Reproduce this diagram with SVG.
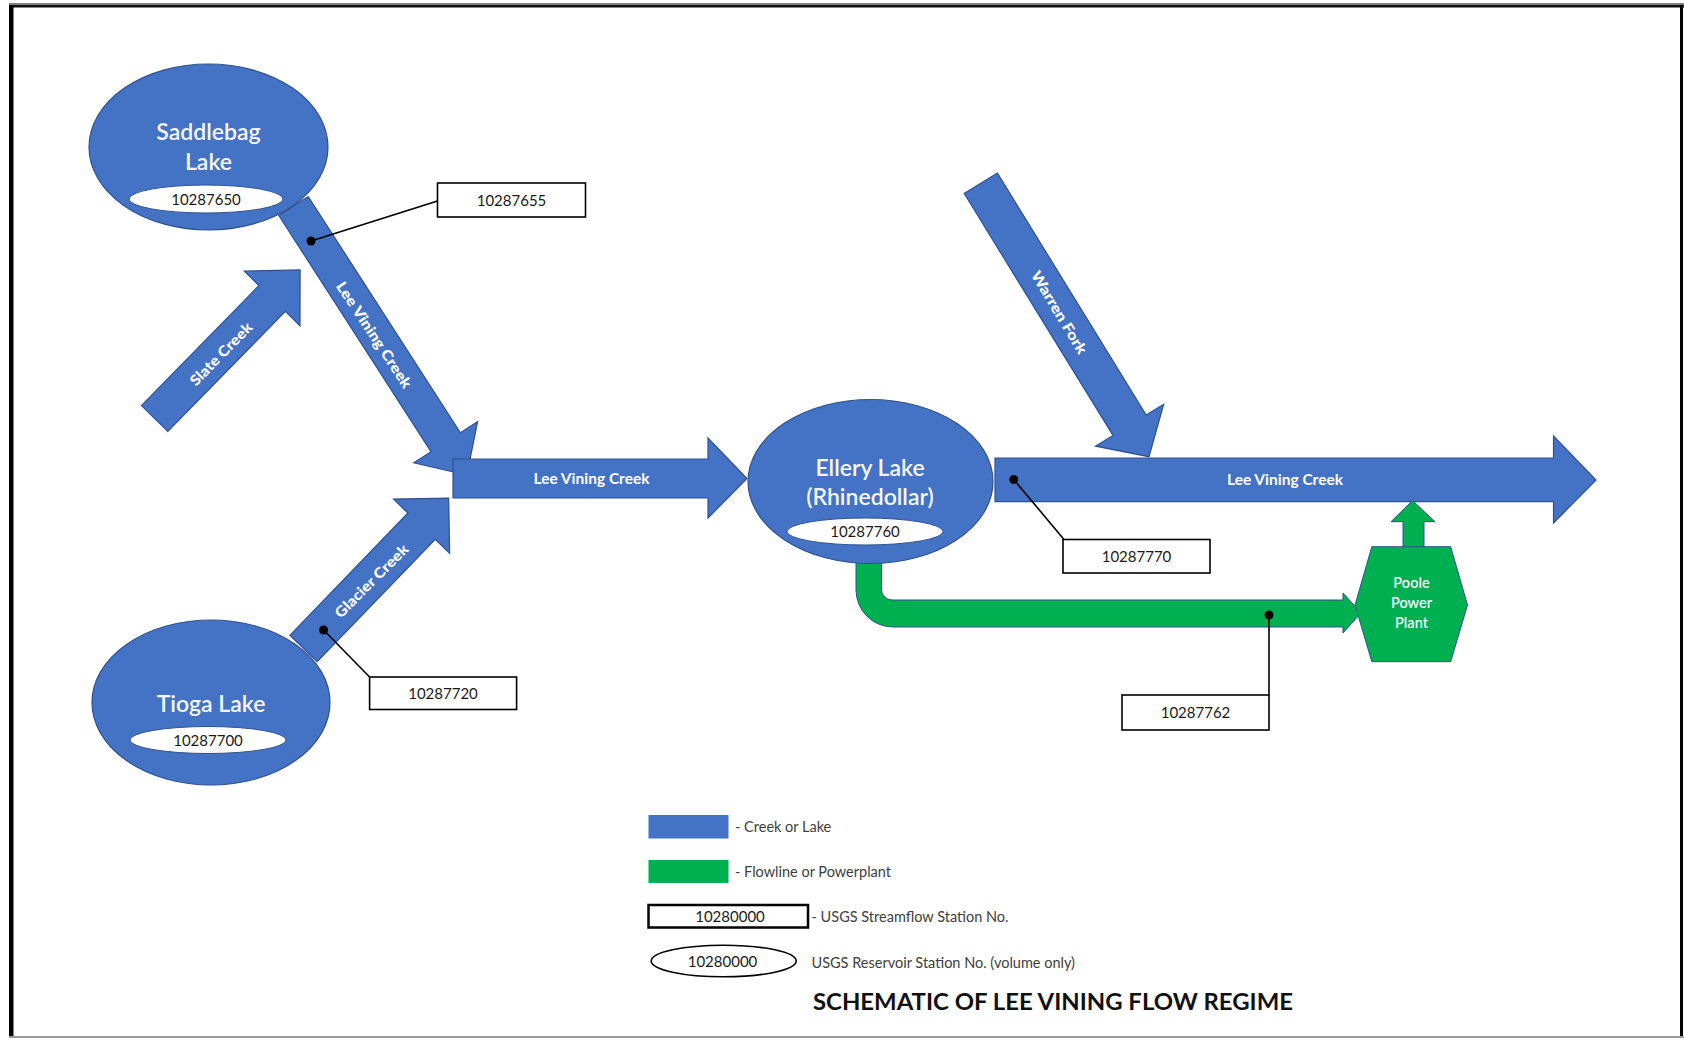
<svg xmlns="http://www.w3.org/2000/svg" width="1684" height="1040" viewBox="0 0 1684 1040">
  <style>
    .creek { fill: #4472C4; stroke: #2F528F; stroke-width: 1.2; }
    .flow { fill: #00B050; stroke: #2F528F; stroke-width: 1; }
    .station { fill: #FFFFFF; stroke: #2F528F; stroke-width: 1; }
    .box { fill: #FFFFFF; stroke: #000000; stroke-width: 1.6; }
    .leader { stroke: #000000; stroke-width: 1.6; fill: none; }
    .dot { fill: #000000; }
    .lake { font-family: Lato, "Open Sans", "Liberation Sans", sans-serif; font-size: 23px; font-weight: 600; fill: #F4F6FB; text-anchor: middle; }
    .num { font-family: Lato, "Open Sans", "Liberation Sans", sans-serif; font-size: 15px; fill: #1a1a1a; text-anchor: middle; }
    .flowlabel { font-family: Lato, "Open Sans", "Liberation Sans", sans-serif; font-size: 14.5px; font-weight: bold; fill: #FFFFFF; text-anchor: middle; }
    .heavy { font-weight: 900; }
    .plant { font-family: Lato, "Open Sans", "Liberation Sans", sans-serif; font-size: 14.5px; font-weight: 600; fill: #F4F6FB; text-anchor: middle; }
    .legend { font-family: Lato, "Open Sans", "Liberation Sans", sans-serif; font-size: 14.5px; fill: #404040; }
    .title { font-family: Lato, "Open Sans", "Liberation Sans", sans-serif; font-size: 22px; font-weight: bold; fill: #111111; }
  </style>

  <rect width="1684" height="1040" fill="#FFFFFF"/>

  <!-- page frame -->
  <g id="frame">
    <rect x="9" y="3" width="1675" height="2" fill="#808080"/>
    <rect x="9" y="5" width="1675" height="2.5" fill="#111111"/>
    <rect x="9" y="5" width="4.5" height="1033" fill="#000000"/>
    <rect x="1680" y="5" width="3" height="1033" fill="#000000"/>
    <rect x="9" y="1036" width="1675" height="2" fill="#999999"/>
  </g>

  <!-- creeks and flowlines -->
  <g id="connectors">
    <!-- Lee Vining Creek from Saddlebag Lake down to the junction -->
    <g id="lee-vining-upper">
      <polygon class="creek" transform="translate(293.5,206) rotate(57.2)"
               points="0,-17.5 281,-17.5 281,-38 320,0 281,38 281,17.5 0,17.5"/>
      <text class="flowlabel heavy" transform="translate(374,335) rotate(56.5)" dy="0.35em" textLength="124" lengthAdjust="spacingAndGlyphs">Lee Vining Creek</text>
    </g>
    <!-- Slate Creek -->
    <g id="slate-creek">
      <polygon class="creek" transform="translate(154.6,418.5) rotate(-45.6)"
               points="0,-18.5 168,-18.5 168,-39 208,0 168,39 168,18.5 0,18.5"/>
      <text class="flowlabel heavy" transform="translate(221,354) rotate(-45.5)" dy="0.35em" textLength="82" lengthAdjust="spacingAndGlyphs">Slate Creek</text>
    </g>
    <!-- Glacier Creek -->
    <g id="glacier-creek">
      <polygon class="creek" transform="translate(303.5,648.5) rotate(-46)"
               points="0,-19 170,-19 170,-39 209,0 170,39 170,19 0,19"/>
      <text class="flowlabel heavy" transform="translate(371.5,581) rotate(-45)" dy="0.35em" textLength="97" lengthAdjust="spacingAndGlyphs">Glacier Creek</text>
    </g>
    <!-- Warren Fork -->
    <g id="warren-fork">
      <polygon class="creek" transform="translate(980.8,183.3) rotate(58.4)"
               points="0,-19.5 284,-19.5 284,-40 321,0 284,40 284,19.5 0,19.5"/>
      <text class="flowlabel heavy" transform="translate(1059,312.5) rotate(59)" dy="0.35em" textLength="94" lengthAdjust="spacingAndGlyphs">Warren Fork</text>
    </g>
    <!-- Lee Vining Creek, junction to Ellery Lake -->
    <g id="lee-vining-middle">
      <polygon class="creek" points="453,459 708,459 708,438 747,478.5 708,518 708,498 453,498"/>
      <text class="flowlabel" x="591.5" y="484" textLength="116" lengthAdjust="spacingAndGlyphs">Lee Vining Creek</text>
    </g>
    <!-- Lee Vining Creek below Ellery Lake -->
    <g id="lee-vining-lower">
      <polygon class="creek" points="995,458 1553.5,458 1553.5,436 1596,480 1553.5,523 1553.5,501.7 995,501.7"/>
      <text class="flowlabel" x="1285" y="485" textLength="116" lengthAdjust="spacingAndGlyphs">Lee Vining Creek</text>
    </g>
    <!-- flowline from Ellery Lake to Poole Power Plant -->
    <path id="flowline" class="flow"
          d="M856,550 V590 A37,37 0 0 0 893,627 H1343 V633 L1361,613 L1343,593 V600 H892 A10.5,10.5 0 0 1 881.5,589.5 V550 Z"/>
    <!-- powerplant return to the creek -->
    <polygon id="plant-return" class="flow" points="1403,548 1403,521.7 1391,521.7 1412.5,500.5 1435,521.7 1424,521.7 1424,548"/>

    <!-- station leader lines -->
    <g id="leaders">
      <line class="leader" x1="311" y1="241" x2="437.5" y2="201"/>
      <circle class="dot" cx="311" cy="241" r="4.5"/>
      <line class="leader" x1="323.6" y1="630" x2="369.6" y2="677"/>
      <circle class="dot" cx="323.6" cy="630" r="4.5"/>
      <line class="leader" x1="1013.8" y1="479.5" x2="1064" y2="539.5"/>
      <circle class="dot" cx="1013.8" cy="479.5" r="4.5"/>
      <line class="leader" x1="1269" y1="615" x2="1269" y2="695"/>
      <circle class="dot" cx="1269" cy="615" r="4.5"/>
    </g>
  </g>

  <!-- lakes -->
  <g id="saddlebag-lake">
    <ellipse class="creek" cx="208.5" cy="147" rx="119.5" ry="83"/>
    <text class="lake" x="208.5" y="140">Saddlebag</text>
    <text class="lake" x="208.5" y="170">Lake</text>
    <ellipse class="station" cx="206" cy="199" rx="77" ry="14"/>
    <text class="num" x="206" y="204.5">10287650</text>
  </g>

  <g id="tioga-lake">
    <ellipse class="creek" cx="211" cy="702.5" rx="119" ry="82.5"/>
    <text class="lake" x="211" y="711.5">Tioga Lake</text>
    <ellipse class="station" cx="208" cy="740" rx="78" ry="13.5"/>
    <text class="num" x="208" y="745.5">10287700</text>
  </g>

  <g id="ellery-lake">
    <ellipse class="creek" cx="870.5" cy="481.5" rx="122.5" ry="82"/>
    <text class="lake" x="870" y="476">Ellery Lake</text>
    <text class="lake" x="870" y="505">(Rhinedollar)</text>
    <ellipse class="station" cx="865" cy="531.5" rx="78" ry="13.5"/>
    <text class="num" x="865" y="537">10287760</text>
  </g>

  <g id="poole-power-plant">
    <polygon class="flow" points="1371.8,546.7 1450.7,546.7 1467.5,605 1450.7,661.7 1371.8,661.7 1355,605"/>
    <text class="plant" x="1411.5" y="588">Poole</text>
    <text class="plant" x="1411.5" y="608">Power</text>
    <text class="plant" x="1411.5" y="628">Plant</text>
  </g>

  <!-- streamflow station boxes -->
  <g id="station-10287655">
    <rect class="box" x="437.5" y="183" width="148" height="34"/>
    <text class="num" x="511.5" y="205.5">10287655</text>
  </g>
  <g id="station-10287720">
    <rect class="box" x="369.6" y="677" width="147" height="32.5"/>
    <text class="num" x="443" y="698.5">10287720</text>
  </g>
  <g id="station-10287770">
    <rect class="box" x="1063" y="539.5" width="147" height="33.5"/>
    <text class="num" x="1136.5" y="561.5">10287770</text>
  </g>
  <g id="station-10287762">
    <rect class="box" x="1122" y="695" width="147" height="35"/>
    <text class="num" x="1195.5" y="718">10287762</text>
  </g>

  <!-- legend -->
  <g id="legend">
    <rect x="648.5" y="815" width="80" height="23.5" fill="#4472C4"/>
    <text class="legend" x="735" y="831.5">- Creek or Lake</text>
    <rect x="648.5" y="860" width="80" height="23" fill="#00B050"/>
    <text class="legend" x="735" y="876.5">- Flowline or Powerplant</text>
    <rect x="648.5" y="905" width="159.5" height="22.5" fill="#FFFFFF" stroke="#000000" stroke-width="2.5"/>
    <text class="num" x="730" y="921.5">10280000</text>
    <text class="legend" x="811.5" y="921.5">- USGS Streamflow Station No.</text>
    <ellipse cx="723.7" cy="961" rx="72.5" ry="15.8" fill="#FFFFFF" stroke="#000000" stroke-width="1.6"/>
    <text class="num" x="722.5" y="966.5">10280000</text>
    <text class="legend" x="811.5" y="968">USGS Reservoir Station No. (volume only)</text>
  </g>

  <text id="title" class="title" x="813" y="1010" textLength="480" lengthAdjust="spacingAndGlyphs">SCHEMATIC OF LEE VINING FLOW REGIME</text>
</svg>
